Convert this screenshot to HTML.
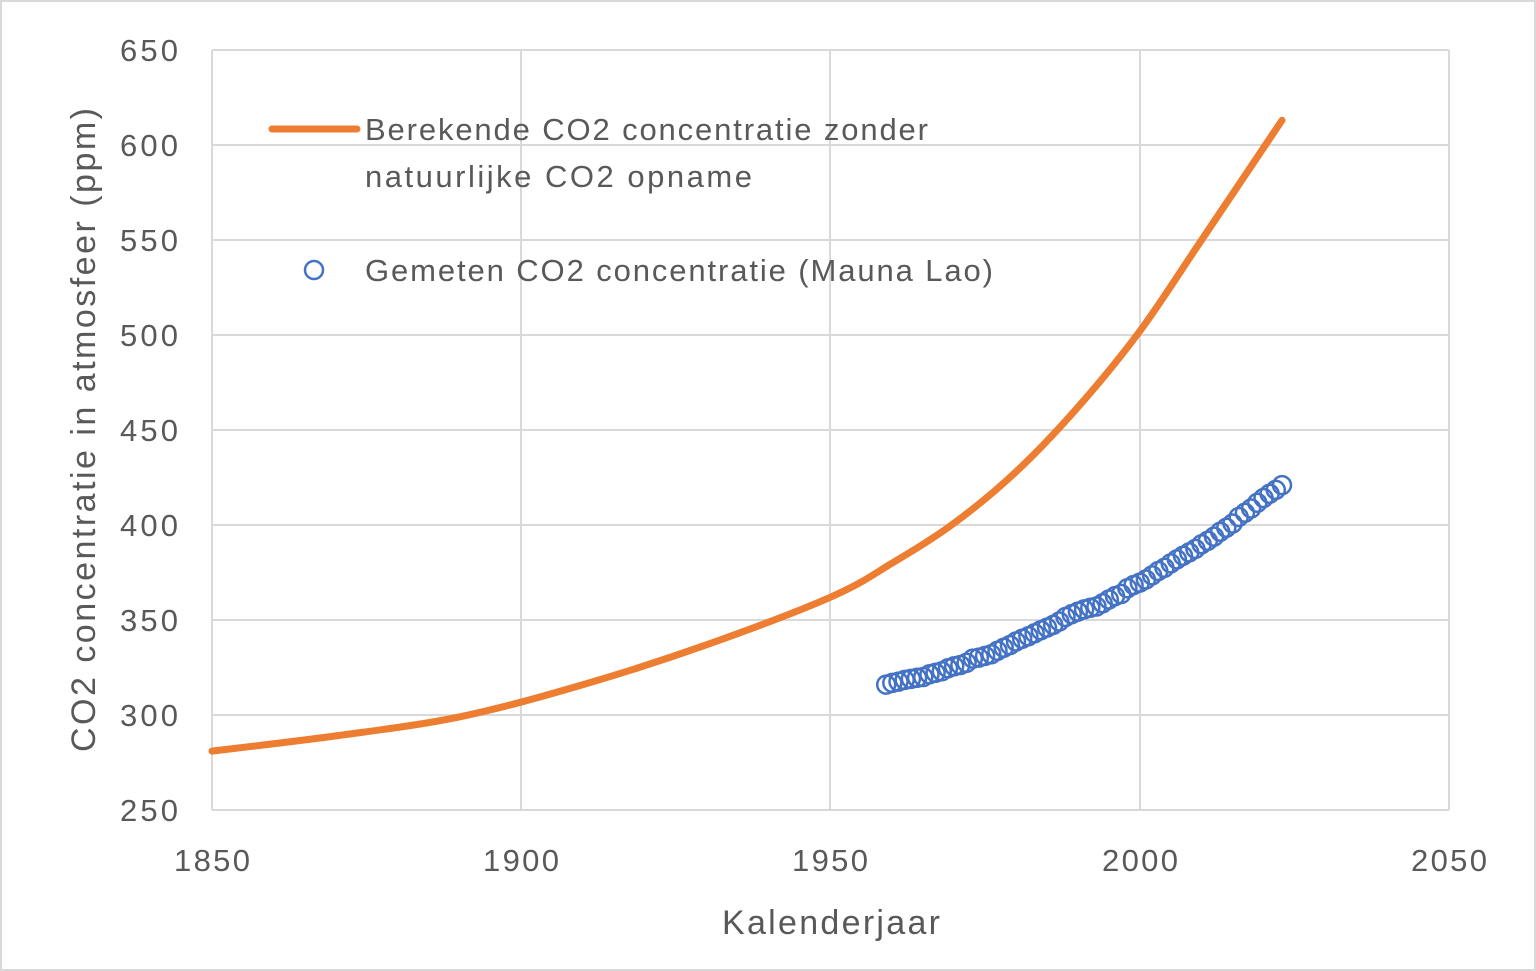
<!DOCTYPE html>
<html><head><style>
body{margin:0;background:#fff;}
svg{display:block;font-family:"Liberation Sans",sans-serif;}
</style></head><body>
<svg width="1536" height="971" viewBox="0 0 1536 971">
<rect x="1" y="1" width="1534" height="969" fill="#fff" stroke="#d9d9d9" stroke-width="2"/>
<g stroke="#d9d9d9" stroke-width="2">
<line x1="212" y1="50" x2="1449" y2="50"/><line x1="212" y1="145" x2="1449" y2="145"/>
<line x1="212" y1="240" x2="1449" y2="240"/><line x1="212" y1="335" x2="1449" y2="335"/>
<line x1="212" y1="430" x2="1449" y2="430"/><line x1="212" y1="525" x2="1449" y2="525"/>
<line x1="212" y1="620" x2="1449" y2="620"/><line x1="212" y1="715" x2="1449" y2="715"/>
<line x1="212" y1="810" x2="1449" y2="810"/>
<line x1="212" y1="50" x2="212" y2="810"/><line x1="521" y1="50" x2="521" y2="810"/>
<line x1="830" y1="50" x2="830" y2="810"/><line x1="1140" y1="50" x2="1140" y2="810"/>
<line x1="1449" y1="50" x2="1449" y2="810"/>
</g>
<g fill="#595959" font-size="31" text-anchor="end">
<text x="178" y="61" textLength="58">650</text><text x="178" y="156" textLength="58">600</text><text x="178" y="251" textLength="58">550</text>
<text x="178" y="346" textLength="58">500</text><text x="178" y="441" textLength="58">450</text><text x="178" y="536" textLength="58">400</text>
<text x="178" y="631" textLength="58">350</text><text x="178" y="726" textLength="58">300</text><text x="178" y="821" textLength="58">250</text>
</g>
<g fill="#595959" font-size="31" text-anchor="middle">
<text x="212" y="871" textLength="76">1850</text><text x="521" y="871" textLength="76">1900</text><text x="830" y="871" textLength="76">1950</text>
<text x="1140" y="871" textLength="76">2000</text><text x="1449" y="871" textLength="76">2050</text>
<text x="831" y="934" font-size="34" textLength="218">Kalenderjaar</text>
<text transform="translate(95,430) rotate(-90)" font-size="34" textLength="644">CO2 concentratie in atmosfeer (ppm)</text>
</g>
<path id="orange" fill="none" stroke="#ED7D31" stroke-width="7" stroke-linecap="round" stroke-linejoin="round" d=""/>
<g id="blue" fill="none" stroke="#4472C4" stroke-width="2.5"></g>
<line x1="272" y1="129" x2="357" y2="129" stroke="#ED7D31" stroke-width="7" stroke-linecap="round"/>
<circle cx="314" cy="270" r="9" fill="none" stroke="#4472C4" stroke-width="2.5"/>
<g fill="#595959" font-size="31">
<text x="365" y="140" textLength="563">Berekende CO2 concentratie zonder</text>
<text x="365" y="187" textLength="387">natuurlijke  CO2 opname</text>
<text x="365" y="281" textLength="628">Gemeten CO2 concentratie (Mauna Lao)</text>
</g>
</svg>
<script>
function X(y){return 212+(y-1850)*6.185;}
function Y(p){return 810-(p-250)*1.9;}
var o=[[1850,281],[1870,289],[1890,299],[1910,316],[1930,337],[1950,362],[1960,380],[1970,401],[1980,428],[1990,462],[2000,502],[2010,550],[2023,613]];
var P=o.map(function(d){return [X(d[0]),Y(d[1])]});
var d='M'+P[0][0]+','+P[0][1];
for(var i=0;i<P.length-1;i++){var p0=P[i>0?i-1:i],p1=P[i],p2=P[i+1],p3=P[i+2<P.length?i+2:i+1];
d+=' C'+(p1[0]+(p2[0]-p0[0])/6).toFixed(1)+','+(p1[1]+(p2[1]-p0[1])/6).toFixed(1)+' '+(p2[0]-(p3[0]-p1[0])/6).toFixed(1)+','+(p2[1]-(p3[1]-p1[1])/6).toFixed(1)+' '+p2[0].toFixed(1)+','+p2[1].toFixed(1);}
document.getElementById('orange').setAttribute('d',d);
var m={1959:316,1960:316.9,1961:317.6,1962:318.5,1963:319,1964:319.6,1965:320,1966:321.4,1967:322.2,1968:323,1969:324.6,1970:325.7,1971:326.3,1972:327.5,1973:329.7,1974:330.2,1975:331.1,1976:332,1977:333.8,1978:335.4,1979:336.8,1980:338.7,1981:340.1,1982:341.4,1983:343,1984:344.6,1985:346,1986:347.4,1987:349.2,1988:351.6,1989:353.1,1990:354.4,1991:355.6,1992:356.4,1993:357.1,1994:358.8,1995:360.8,1996:362.6,1997:363.7,1998:366.7,1999:368.4,2000:369.7,2001:371.3,2002:373.5,2003:375.8,2004:377.5,2005:379.8,2006:381.9,2007:383.8,2008:385.6,2009:387.4,2010:389.9,2011:391.7,2012:393.9,2013:396.5,2014:398.6,2015:400.8,2016:404.2,2017:406.5,2018:408.7,2019:411.7,2020:414.2,2021:416.4,2022:418.5,2023:421};
var g=document.getElementById('blue'),s='';
for(var y in m){s+='<circle cx="'+X(+y).toFixed(1)+'" cy="'+Y(m[y]).toFixed(1)+'" r="9"/>';}
g.innerHTML=s;
</script>
</body></html>
